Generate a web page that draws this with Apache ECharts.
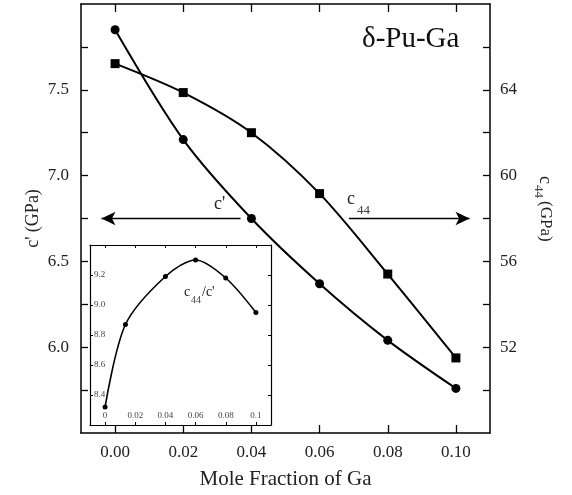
<!DOCTYPE html>
<html>
<head>
<meta charset="utf-8">
<script src="https://cdn.jsdelivr.net/npm/echarts@6/dist/echarts.min.js"></script>
<style>
  html, body { margin: 0; padding: 0; background: #fff; }
  #chart { width: 572px; height: 495px; }
</style>
</head>
<body>
<div id="chart"></div>
<script>
// Elastic constants of delta-phase Pu-Ga alloys versus Ga content
const molFrac = [0, 0.02, 0.04, 0.06, 0.08, 0.10];
const cPrime = [7.85, 7.21, 6.75, 6.37, 6.04, 5.76];      // GPa, left axis
const c44 = [65.22, 63.87, 62.0, 59.16, 55.41, 51.5];     // GPa, right axis

// Inset: anisotropy ratio c44/c'
const ratioFrac = [0, 0.0135, 0.04, 0.06, 0.08, 0.10];
const ratio = [8.32, 8.87, 9.19, 9.30, 9.18, 8.95];

// Tick values
const xTicks = [0, 0.02, 0.04, 0.06, 0.08, 0.10];
const cPrimeLabels = [6.0, 6.5, 7.0, 7.5];
const cPrimeTicks = [5.75, 6.0, 6.25, 6.5, 6.75, 7.0, 7.25, 7.5, 7.75];
const c44Labels = [52, 56, 60, 64];
const c44Ticks = [50, 52, 54, 56, 58, 60, 62, 64, 66];
const insetYTicks = [8.4, 8.6, 8.8, 9.0, 9.2];

const FONT = '"Liberation Serif", "DejaVu Serif", serif';
const zip = (xs, ys) => xs.map((x, i) => [x, ys[i]]);

const axisLine = { show: true, onZero: false, lineStyle: { color: '#000', width: 1.5 } };

const chart = echarts.init(document.getElementById('chart'), null, { renderer: 'canvas' });

const option = {
  animation: false,
  backgroundColor: '#fff',
  grid: [
    { left: 81, top: 4, right: 82, bottom: 62 },
    { left: 90, top: 245, width: 181, height: 180, show: true, backgroundColor: '#fff', borderWidth: 0, z: 5 }
  ],
  xAxis: [
    {
      gridIndex: 0, type: 'value', position: 'bottom', min: -0.01, max: 0.11,
      axisLine: axisLine,
      axisTick: { show: true, inside: true, length: 8, customValues: xTicks, lineStyle: { color: '#000', width: 1.3 } },
      axisLabel: { customValues: xTicks, formatter: v => v.toFixed(2), margin: 11, color: '#222', fontFamily: FONT, fontSize: 17 },
      splitLine: { show: false },
      name: 'Mole Fraction of Ga', nameLocation: 'middle', nameGap: 36,
      nameTextStyle: { fontFamily: FONT, fontSize: 21, color: '#222' }
    },
    {
      gridIndex: 0, type: 'value', position: 'top', min: -0.01, max: 0.11,
      axisLine: axisLine,
      axisTick: { show: true, inside: true, length: 8, customValues: xTicks, lineStyle: { color: '#000', width: 1.3 } },
      axisLabel: { show: false },
      splitLine: { show: false }
    },
    {
      gridIndex: 1, type: 'value', position: 'bottom', min: -0.01, max: 0.11,
      axisLine: { show: true, onZero: false, lineStyle: { color: '#000', width: 1.2 } },
      axisTick: { show: true, inside: true, length: 3, customValues: xTicks, lineStyle: { color: '#000', width: 1 } },
      axisLabel: { inside: true, customValues: xTicks, formatter: v => String(+v.toFixed(2)), margin: 5, color: '#444', fontFamily: FONT, fontSize: 9 },
      splitLine: { show: false }, z: 6
    },
    {
      gridIndex: 1, type: 'value', position: 'top', min: -0.01, max: 0.11,
      axisLine: { show: true, onZero: false, lineStyle: { color: '#000', width: 1.2 } },
      axisTick: { show: true, inside: true, length: 3, customValues: xTicks, lineStyle: { color: '#000', width: 1 } },
      axisLabel: { show: false },
      splitLine: { show: false }, z: 6
    }
  ],
  yAxis: [
    {
      gridIndex: 0, type: 'value', position: 'left', min: 5.5, max: 8.0,
      axisLine: axisLine,
      axisTick: { show: true, inside: true, length: 7, customValues: cPrimeTicks, lineStyle: { color: '#000', width: 1.3 } },
      axisLabel: { customValues: cPrimeLabels, formatter: v => v.toFixed(1), margin: 12, color: '#222', fontFamily: FONT, fontSize: 17 },
      splitLine: { show: false },
      name: "c' (GPa)", nameLocation: 'middle', nameGap: 39, nameRotate: 90, nameMoveOverlap: false,
      nameTextStyle: { fontFamily: FONT, fontSize: 18, color: '#222' }
    },
    {
      gridIndex: 0, type: 'value', position: 'right', min: 48, max: 68,
      axisLine: axisLine,
      axisTick: { show: true, inside: true, length: 7, customValues: c44Ticks, lineStyle: { color: '#000', width: 1.3 } },
      axisLabel: { customValues: c44Labels, margin: 10, color: '#222', fontFamily: FONT, fontSize: 17 },
      splitLine: { show: false }
    },
    {
      gridIndex: 1, type: 'value', position: 'left', min: 8.2, max: 9.4,
      axisLine: { show: true, onZero: false, lineStyle: { color: '#000', width: 1.2 } },
      axisTick: { show: true, inside: true, length: 3, customValues: insetYTicks, lineStyle: { color: '#000', width: 1 } },
      axisLabel: { inside: true, customValues: insetYTicks, formatter: v => v.toFixed(1), margin: 4, color: '#444', fontFamily: FONT, fontSize: 9 },
      splitLine: { show: false }, z: 6
    },
    {
      gridIndex: 1, type: 'value', position: 'right', min: 8.2, max: 9.4,
      axisLine: { show: true, onZero: false, lineStyle: { color: '#000', width: 1.2 } },
      axisTick: { show: true, inside: true, length: 3, customValues: insetYTicks, lineStyle: { color: '#000', width: 1 } },
      axisLabel: { show: false },
      splitLine: { show: false }, z: 6
    }
  ],
  series: [
    {
      name: "c'", type: 'line', xAxisIndex: 0, yAxisIndex: 0,
      data: zip(molFrac, cPrime), smooth: 0.3,
      symbol: 'circle', symbolSize: 9,
      lineStyle: { color: '#000', width: 2 }, itemStyle: { color: '#000' },
      markLine: {
        silent: true, symbol: ['none', 'arrow'], symbolSize: [10, 14],
        lineStyle: { color: '#000', width: 1.3, type: 'solid' }, label: { show: false },
        data: [
          [{ coord: [0.0368, 6.75] }, { coord: [-0.0040, 6.75] }],
          [{ coord: [0.0686, 6.75] }, { coord: [0.1040, 6.75] }]
        ]
      }
    },
    {
      name: 'c44', type: 'line', xAxisIndex: 0, yAxisIndex: 1,
      data: zip(molFrac, c44), smooth: 0.3,
      symbol: 'rect', symbolSize: 9,
      lineStyle: { color: '#000', width: 2 }, itemStyle: { color: '#000' }
    },
    {
      name: "c44/c'", type: 'line', xAxisIndex: 2, yAxisIndex: 2,
      data: zip(ratioFrac, ratio), smooth: 0.3,
      symbol: 'circle', symbolSize: 5, z: 7,
      lineStyle: { color: '#000', width: 1.6 }, itemStyle: { color: '#000' }
    }
  ],
  graphic: [
    { type: 'text', left: 362, top: 25, style: { text: 'δ-Pu-Ga', font: '29px ' + FONT, fill: '#111' } },
    { type: 'text', x: 214, y: 213, style: { text: "c'", font: '18px ' + FONT, fill: '#222', verticalAlign: 'bottom' } },
    { type: 'text', x: 347, y: 208, style: { text: 'c', font: '18px ' + FONT, fill: '#222', verticalAlign: 'bottom' } },
    { type: 'text', x: 357, y: 217, style: { text: '44', font: '13px ' + FONT, fill: '#444', verticalAlign: 'bottom' } },
    { type: 'text', x: 184, y: 299, z: 20, style: { text: 'c', font: '14px ' + FONT, fill: '#222', verticalAlign: 'bottom' } },
    { type: 'text', x: 191, y: 305, z: 20, style: { text: '44', font: '10px ' + FONT, fill: '#444', verticalAlign: 'bottom' } },
    { type: 'text', x: 202, y: 299, z: 20, style: { text: "/c'", font: '14px ' + FONT, fill: '#222', verticalAlign: 'bottom' } },
    {
      type: 'group', x: 545, y: 176, rotation: -Math.PI / 2,
      children: [
        { type: 'text', x: 0, y: 0, style: { text: 'c', font: '18px ' + FONT, fill: '#222', verticalAlign: 'middle' } },
        { type: 'text', x: 9, y: 7, style: { text: '44', font: '13px ' + FONT, fill: '#444', verticalAlign: 'middle' } },
        { type: 'text', x: 25, y: 0, style: { text: '(GPa)', font: '17px ' + FONT, fill: '#222', verticalAlign: 'middle' } }
      ]
    }
  ]
};

chart.setOption(option);
</script>
</body>
</html>
